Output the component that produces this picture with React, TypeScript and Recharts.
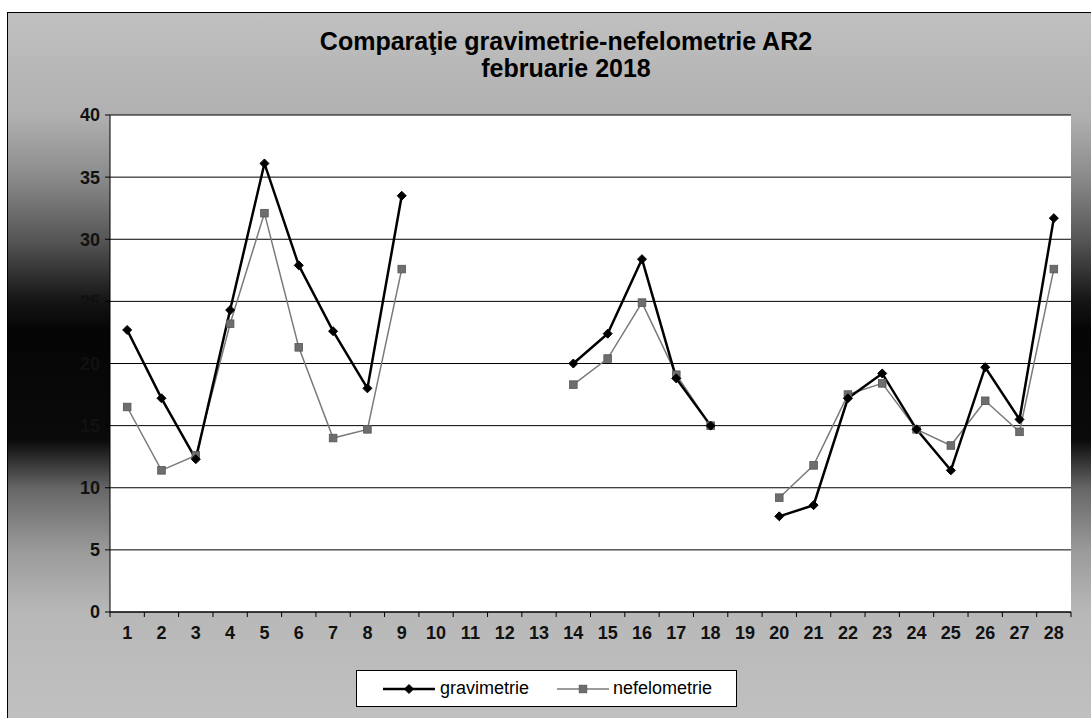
import { LineChart, Line, XAxis, YAxis, CartesianGrid, Legend } from "recharts";

// categories: days of February 2018
const days = [
  "1", "2", "3", "4", "5", "6", "7", "8", "9", "10", "11", "12", "13", "14",
  "15", "16", "17", "18", "19", "20", "21", "22", "23", "24", "25", "26", "27", "28",
];

const gravimetrie = [
  22.7, 17.2, 12.3, 24.3, 36.1, 27.9, 22.6, 18.0, 33.5, null, null, null, null, 20.0,
  22.4, 28.4, 18.8, 15.0, null, 7.7, 8.6, 17.2, 19.2, 14.7, 11.4, 19.7, 15.5, 31.7,
];

const nefelometrie = [
  16.5, 11.4, 12.6, 23.2, 32.1, 21.3, 14.0, 14.7, 27.6, null, null, null, null, 18.3,
  20.4, 24.9, 19.1, 15.0, null, 9.2, 11.8, 17.5, 18.4, 14.7, 13.4, 17.0, 14.5, 27.6,
];

const yTicks = [0, 5, 10, 15, 20, 25, 30, 35, 40];

const data = days.map((d, i) => ({
  day: d,
  gravimetrie: gravimetrie[i],
  nefelometrie: nefelometrie[i],
}));

const W = 1083;
const H = 705;
const margin = { top: 102, right: 20, bottom: 76, left: 52 };
const X_AXIS_H = 30;
const PLOT_LEFT = margin.left + 50;
const PLOT_RIGHT = W - margin.right;
const PLOT_BOTTOM = H - margin.bottom - X_AXIS_H;
const BAND = (PLOT_RIGHT - PLOT_LEFT) / days.length;

const FONT = "'Liberation Sans', Arial, sans-serif";
const GRAY = "#7a7a7a";

function Diamond({ cx, cy }: any) {
  if (cx == null || cy == null) return <g />;
  const r = 4.5;
  return (
    <path
      d={`M${cx},${cy - r}L${cx + r},${cy}L${cx},${cy + r}L${cx - r},${cy}Z`}
      fill="#000"
      stroke="#000"
    />
  );
}

function Square({ cx, cy }: any) {
  if (cx == null || cy == null) return <g />;
  const r = 3.8;
  return (
    <rect x={cx - r} y={cy - r} width={r * 2} height={r * 2} fill="#6e6e6e" stroke="#555" strokeWidth={0.8} />
  );
}

function XTick({ x, payload, index }: any) {
  const left = x - BAND / 2;
  return (
    <g>
      <line x1={left} x2={left} y1={PLOT_BOTTOM} y2={PLOT_BOTTOM + 5} stroke="#000" />
      {index === days.length - 1 && (
        <line x1={x + BAND / 2} x2={x + BAND / 2} y1={PLOT_BOTTOM} y2={PLOT_BOTTOM + 5} stroke="#000" />
      )}
      <text
        x={x}
        y={PLOT_BOTTOM + 27}
        textAnchor="middle"
        fontSize={18}
        fontWeight="bold"
        fontFamily={FONT}
        fill="#111"
      >
        {payload.value}
      </text>
    </g>
  );
}

function LegendBox() {
  return (
    <div
      style={{
        width: 381,
        height: 37,
        boxSizing: "border-box",
        border: "1px solid #000",
        background: "#fff",
        display: "flex",
        alignItems: "center",
        paddingLeft: 26,
        gap: 28,
        fontFamily: FONT,
        fontSize: 18,
        color: "#000",
      }}
    >
      <span style={{ display: "flex", alignItems: "center", gap: 5 }}>
        <svg width={52} height={12}>
          <line x1={0} x2={52} y1={6} y2={6} stroke="#000" strokeWidth={2.5} />
          <Diamond cx={26} cy={6} />
        </svg>
        gravimetrie
      </span>
      <span style={{ display: "flex", alignItems: "center", gap: 4 }}>
        <svg width={52} height={12}>
          <line x1={0} x2={52} y1={6} y2={6} stroke={GRAY} strokeWidth={1.5} />
          <Square cx={26} cy={6} />
        </svg>
        nefelometrie
      </span>
    </div>
  );
}

export default function App() {
  return (
    <div
      style={{
        position: "fixed",
        left: 7,
        top: 12,
        width: 1084,
        height: 706,
        boxSizing: "border-box",
        borderTop: "1px solid #000",
        borderLeft: "1px solid #000",
        background:
          "linear-gradient(to bottom, #c0c0c0 0%, #b0b0b0 14.6%, #8a8a8a 23.4%, #555 32.3%, #151515 40.8%, #050505 45%, #0a0a0a 60.6%, #666 67.4%, #9a9a9a 76.2%, #b8b8b8 85%, #c0c0c0 100%)",
        fontFamily: FONT,
      }}
    >
      <div
        style={{
          position: "absolute",
          left: 258,
          width: 600,
          top: 15,
          textAlign: "center",
          fontWeight: "bold",
          fontSize: 25,
          lineHeight: "27px",
          color: "#000",
        }}
      >
        Comparaţie gravimetrie-nefelometrie AR2
        <br />
        februarie 2018
      </div>
      <LineChart width={W} height={H} data={data} margin={margin}>
        <CartesianGrid vertical={false} stroke="#000" strokeWidth={1} fill="#fff" fillOpacity={1} />
        <XAxis
          dataKey="day"
          scale="band"
          height={X_AXIS_H}
          axisLine={{ stroke: "#000" }}
          tickLine={false}
          interval={0}
          tick={<XTick />}
        />
        <YAxis
          width={50}
          domain={[0, 40]}
          ticks={yTicks}
          interval={0}
          axisLine={{ stroke: "#000" }}
          tickLine={{ stroke: "#000" }}
          tickSize={5}
          tickMargin={5}
          tick={{ fontSize: 18, fontWeight: "bold", fontFamily: FONT, fill: "#111" }}
        />
        <Legend
          layout="horizontal"
          verticalAlign="middle"
          align="center"
          content={() => <LegendBox />}
          wrapperStyle={{ position: "absolute", left: 348, top: 657, width: 381, height: 37 }}
        />
        <Line
          type="linear"
          dataKey="nefelometrie"
          stroke={GRAY}
          strokeWidth={1.5}
          dot={(p: any) => <Square key={`n${p.index}`} {...p} />}
          activeDot={false}
          isAnimationActive={false}
        />
        <Line
          type="linear"
          dataKey="gravimetrie"
          stroke="#000"
          strokeWidth={2.5}
          dot={(p: any) => <Diamond key={`g${p.index}`} {...p} />}
          activeDot={false}
          isAnimationActive={false}
        />
      </LineChart>
    </div>
  );
}
